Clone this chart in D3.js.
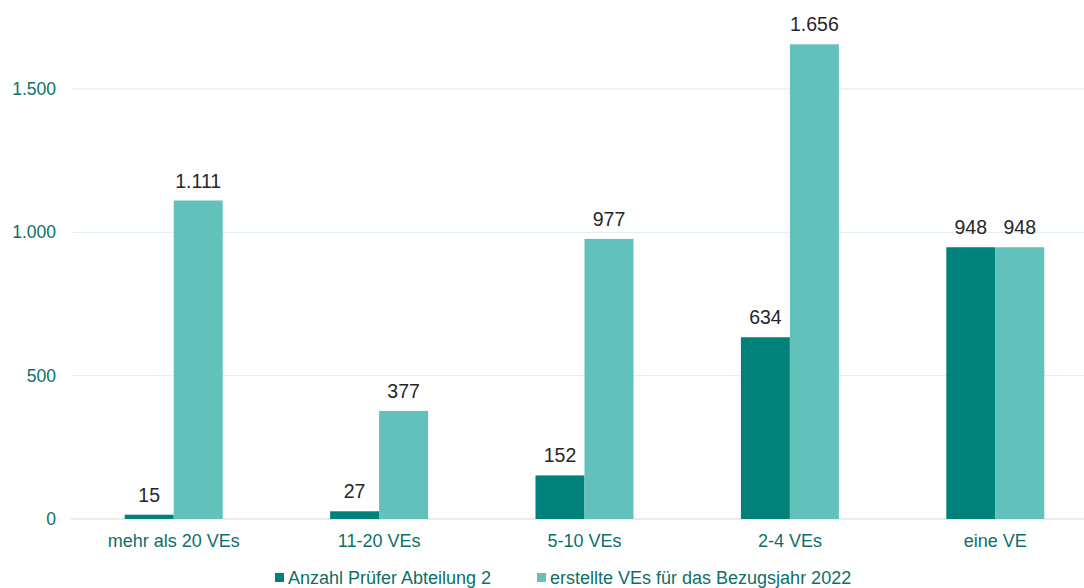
<!DOCTYPE html>
<html><head><meta charset="utf-8">
<script src="https://cdn.jsdelivr.net/npm/d3@7"></script>
<style>body{margin:0;background:#fff}svg{display:block;font-family:"Liberation Sans",Arial,sans-serif}</style>
</head><body><svg id="c" width="1084" height="588"></svg>
<script>
const categories = ["mehr als 20 VEs","11-20 VEs","5-10 VEs","2-4 VEs","eine VE"];
const seriesNames = ["Anzahl Prüfer Abteilung 2","erstellte VEs für das Bezugsjahr 2022"];
const pruefer = [15,27,152,634,948];
const erstellt = [1111,377,977,1656,948];
const yTicks = [0,500,1000,1500];
const colors = ["#00827a","#63c1bc"];

const svg = d3.select("#c");
const fmt = v => d3.format(",")(v).replace(/,/g,".");
const x = d3.scaleBand().domain(categories).range([71,1098]).paddingInner(0).paddingOuter(0);
const y = d3.scaleLinear().domain([0,1500]).range([519,89]);
const barW = 49;

// gridlines
svg.append("g").selectAll("line").data(yTicks).join("line")
  .attr("x1",71).attr("x2",1098).attr("y1",d=>y(d)).attr("y2",d=>y(d))
  .attr("stroke",d=>d===0?"#d9d9d9":"#dcefee").attr("stroke-width",1);

// y axis labels
const yAxis = d3.axisLeft(y).tickValues(yTicks).tickFormat(fmt).tickSize(0).tickPadding(15);
const yg = svg.append("g").attr("transform","translate(71,0)").call(yAxis);
yg.select(".domain").remove();
yg.selectAll("text").attr("fill","#0d6f69").attr("font-size","17.5px").attr("font-family","Liberation Sans, Arial, sans-serif");

const series = [pruefer, erstellt];
series.forEach((vals,si)=>{
  const g = svg.append("g");
  g.selectAll("rect").data(vals).join("rect")
    .attr("x",(d,i)=>x(categories[i])+x.bandwidth()/2 - barW + si*barW)
    .attr("width",barW)
    .attr("y",d=>y(d)).attr("height",d=>y(0)-y(d))
    .attr("fill",colors[si]);
  g.selectAll("text").data(vals).join("text")
    .attr("x",(d,i)=>x(categories[i])+x.bandwidth()/2 - barW/2 + si*barW)
    .attr("y",d=>y(d)-13)
    .attr("text-anchor","middle").attr("font-size","19.5px").attr("fill","#262626")
    .text(fmt);
});

// x axis labels
const xAxis = d3.axisBottom(x).tickSize(0).tickPadding(15);
const xg = svg.append("g").attr("transform","translate(0,519)").call(xAxis);
xg.select(".domain").remove();
xg.selectAll("text").attr("fill","#0d6f69").attr("font-size","18px").attr("font-family","Liberation Sans, Arial, sans-serif");

// legend
const legX = [275,537];
const lg = svg.append("g");
seriesNames.forEach((n,i)=>{
  lg.append("rect").attr("x",legX[i]).attr("y",573).attr("width",9).attr("height",9).attr("fill",colors[i]);
  lg.append("text").attr("x",legX[i]+13).attr("y",584).attr("font-size","18px").attr("fill","#0d6f69").text(n);
});
</script></body></html>
